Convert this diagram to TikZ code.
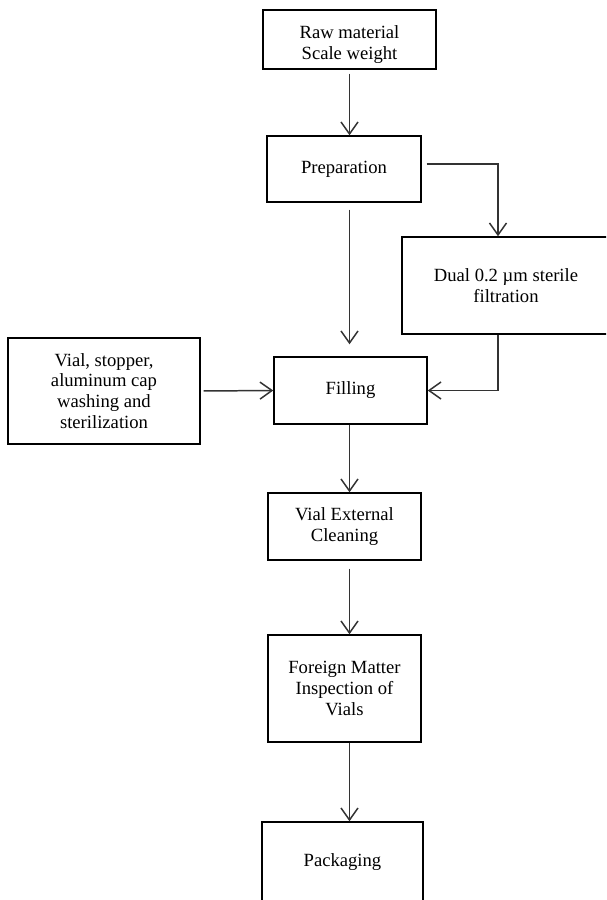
\documentclass[tikz,border=0pt]{standalone}
\usepackage{fontspec}
\setmainfont{Liberation Serif}
\usepackage{tikz}
\usetikzlibrary{arrows.meta}
\tikzstyle{arrow} = [->,>={Straight Barb[length=2.4mm,width=3.4mm]},line width=0.85pt,black!80]
\tikzstyle{stage} = [draw,line width=0.85pt,align=center,inner sep=2pt,font=\fontsize{10.6}{11.9}\selectfont]

\begin{document}
\begin{tikzpicture}[x=0.02cm,y=-0.02cm]
    \useasboundingbox (0,0) rectangle (606,900);
    \clip (0,0) rectangle (606,900);
    % main line
    \node[stage,minimum width=3.46cm,minimum height=1.18cm] (raw) at (349.5,39.5) {\rule{0pt}{13pt}Raw material\\Scale weight};
    \node[stage,minimum width=3.08cm,minimum height=1.32cm] (prep) at (344,169) {Preparation};
    \node[stage,minimum width=3.06cm,minimum height=1.34cm] (fill) at (350.5,390.5) {Filling};
    \node[stage,minimum width=3.06cm,minimum height=1.34cm] (clean) at (344.5,526.5) {Vial External\\Cleaning};
    \node[stage,minimum width=3.06cm,minimum height=2.14cm] (inspect) at (344.5,688.5) {Foreign Matter\\Inspection of\\Vials};
    \node[stage,minimum width=3.22cm,minimum height=1.6cm] (pack) at (342.5,862) {Packaging};
    % side boxes
    \node[stage,minimum width=4.16cm,minimum height=1.94cm] (filter) at (506,285.5) {Dual 0.2 µm sterile\\filtration};
    \node[stage,minimum width=3.84cm,minimum height=2.12cm] (wash) at (104,391) {Vial, stopper,\\aluminum cap\\washing and\\sterilization};
    % connectors
    \draw[arrow,shorten <=0.08cm] (raw.south) -- (prep.north -| raw.south);
    \draw[arrow,shorten <=0.14cm,shorten >=0.24cm] (prep.south -| raw.south) -- (fill.north -| raw.south);
    \draw[arrow,shorten <=0.1cm] ([yshift=0.1cm]prep.east) -| ([xshift=-0.16cm]filter.north);
    \draw[arrow] ([xshift=-0.16cm]filter.south) |- (fill.east);
    \draw[arrow,shorten <=0.06cm] (wash.east) -- (fill.west);
    \draw[arrow] (fill.south -| raw.south) -- (clean.north -| raw.south);
    \draw[arrow,shorten <=0.16cm] (clean.south -| raw.south) -- (inspect.north -| raw.south);
    \draw[arrow] (inspect.south -| raw.south) -- (pack.north -| raw.south);
\end{tikzpicture}
\end{document}
